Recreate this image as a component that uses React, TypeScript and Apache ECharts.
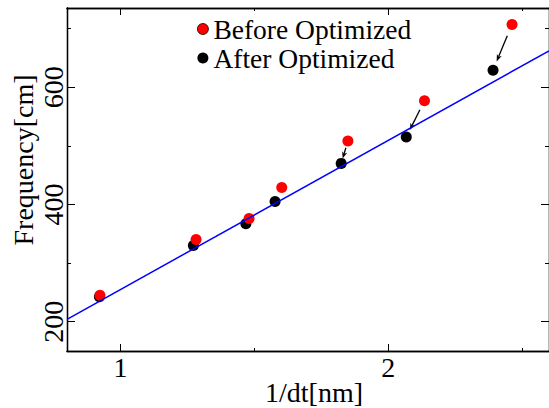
import React, { useEffect, useRef } from "react";
import * as echarts from "echarts";

const beforeX = [0.923, 1.282, 1.48, 1.602, 1.849, 2.135, 2.462];
const beforeY = [245, 340, 376, 429, 508, 577, 707];
const afterX = [0.921, 1.272, 1.468, 1.577, 1.824, 2.067, 2.391];
const afterY = [242.5, 330, 367, 405, 470, 515, 629];
const fitX = [0.8, 2.6];
const fitY = [204, 662];
const arrowPairs = [4, 5, 6];
const xMajorTicks = [1, 2];
const xMinorTicks = [1.5, 2.5];
const yMajorTicks = [200, 400, 600];
const yMinorTicks = [300, 500, 700];
const xRange = [0.8, 2.6];
const yRange = [150, 735];

const FONT = "Liberation Serif";

export default function App() {
  const ref = useRef<HTMLDivElement>(null);
  useEffect(() => {
    if (!ref.current) return;
    const chart = echarts.init(ref.current, undefined, { renderer: "svg" });
    const lineStyle = { color: "#000", width: 1.3 };
    const mkX = (pos: string, ticks: number[], len: number, labels: boolean) => ({
      type: "value",
      position: pos,
      min: xRange[0],
      max: xRange[1],
      axisLine: { show: true, onZero: false, lineStyle },
      axisTick: { show: true, inside: true, length: len, customValues: ticks, lineStyle: { color: "#000", width: 1 } },
      axisLabel: labels
        ? { show: true, customValues: ticks, margin: 2, color: "#000", fontFamily: FONT, fontSize: 28 }
        : { show: false },
      splitLine: { show: false },
    });
    const mkY = (pos: string, ticks: number[], len: number, labels: boolean) => ({
      type: "value",
      position: pos,
      min: yRange[0],
      max: yRange[1],
      axisLine: { show: true, onZero: false, lineStyle },
      axisTick: { show: true, inside: true, length: len, customValues: ticks, lineStyle: { color: "#000", width: 1 } },
      axisLabel: labels
        ? { show: true, customValues: ticks, rotate: 90, margin: 0, color: "#000", fontFamily: FONT, fontSize: 28 }
        : { show: false },
      splitLine: { show: false },
    });
    const after = afterX.map((x, i) => [x, afterY[i]]);
    const before = beforeX.map((x, i) => [x, beforeY[i]]);
    const fit = fitX.map((x, i) => [x, fitY[i]]);
    const arrows = arrowPairs.map((i) => [beforeX[i], beforeY[i], afterX[i], afterY[i]]);
    chart.setOption({
      animation: false,
      backgroundColor: "#fff",
      grid: { left: 67, right: -1, top: 8, bottom: 57 },
      legend: {
        orient: "vertical",
        left: 192,
        top: 10,
        itemWidth: 11,
        itemHeight: 11,
        itemGap: 1,
        data: [
          { name: "Before Optimized", icon: "circle", itemStyle: { color: "#ff0000", borderColor: "#000", borderWidth: 0.8, opacity: 1 } },
          { name: "After Optimized", icon: "circle", itemStyle: { color: "#000", opacity: 1 } },
        ],
        textStyle: { color: "#000", fontFamily: FONT, fontSize: 27.5 },
      },
      xAxis: [
        mkX("bottom", xMajorTicks, 7, true),
        mkX("bottom", xMinorTicks, 3, false),
        mkX("top", xMajorTicks, 7, false),
        mkX("top", xMinorTicks, 3, false),
      ],
      yAxis: [
        mkY("left", yMajorTicks, 8, true),
        mkY("left", yMinorTicks, 4, false),
        mkY("right", yMajorTicks, 8, false),
        mkY("right", yMinorTicks, 4, false),
      ],
      graphic: [
        {
          type: "text",
          x: 23,
          y: 160,
          rotation: Math.PI / 2,
          style: { text: "Frequency[cm]", fill: "#000", font: `28px "${FONT}"`, textAlign: "center", textVerticalAlign: "middle" },
        },
        {
          type: "text",
          x: 314,
          y: 392,
          style: { text: "1/dt[nm]", fill: "#000", font: `28px "${FONT}"`, textAlign: "center", textVerticalAlign: "middle" },
        },
      ],
      series: [
        {
          name: "After Optimized",
          type: "scatter",
          data: after,
          symbol: "circle",
          symbolSize: 11,
          itemStyle: { color: "#000", opacity: 1 },
        },
        {
          name: "Before Optimized",
          type: "scatter",
          data: before,
          symbol: "circle",
          symbolSize: 11,
          itemStyle: { color: "#ff0000", opacity: 1 },
        },
        {
          type: "line",
          data: fit,
          showSymbol: false,
          symbol: "none",
          lineStyle: { color: "#0000ff", width: 1.5 },
          silent: true,
        },
        {
          type: "custom",
          data: arrows,
          encode: { x: [0, 2], y: [1, 3] },
          renderItem: (params: any, api: any) => {
            const p1 = api.coord([api.value(0), api.value(1)]);
            const p2 = api.coord([api.value(2), api.value(3)]);
            const dx = p2[0] - p1[0];
            const dy = p2[1] - p1[1];
            const d = Math.sqrt(dx * dx + dy * dy);
            const ux = dx / d;
            const uy = dy / d;
            const so = Math.max(7, d * 0.25);
            const eo = Math.max(5, d * 0.19);
            const s = [p1[0] + ux * so, p1[1] + uy * so];
            const e = [p2[0] - ux * eo, p2[1] - uy * eo];
            const hl = 7;
            const hw = 2.6;
            const b = [e[0] - ux * hl, e[1] - uy * hl];
            return {
              type: "group",
              children: [
                {
                  type: "line",
                  shape: { x1: s[0], y1: s[1], x2: b[0] + ux * 2, y2: b[1] + uy * 2 },
                  style: { stroke: "#000", lineWidth: 1.3 },
                },
                {
                  type: "polygon",
                  shape: {
                    points: [
                      e,
                      [b[0] - uy * hw, b[1] + ux * hw],
                      [b[0] + ux * 2, b[1] + uy * 2],
                      [b[0] + uy * hw, b[1] - ux * hw],
                    ],
                  },
                  style: { fill: "#000" },
                },
              ],
            };
          },
        },
      ],
    });
    return () => chart.dispose();
  }, []);
  return <div ref={ref} style={{ position: "fixed", left: 0, top: 0, width: 549, height: 408 }} />;
}
